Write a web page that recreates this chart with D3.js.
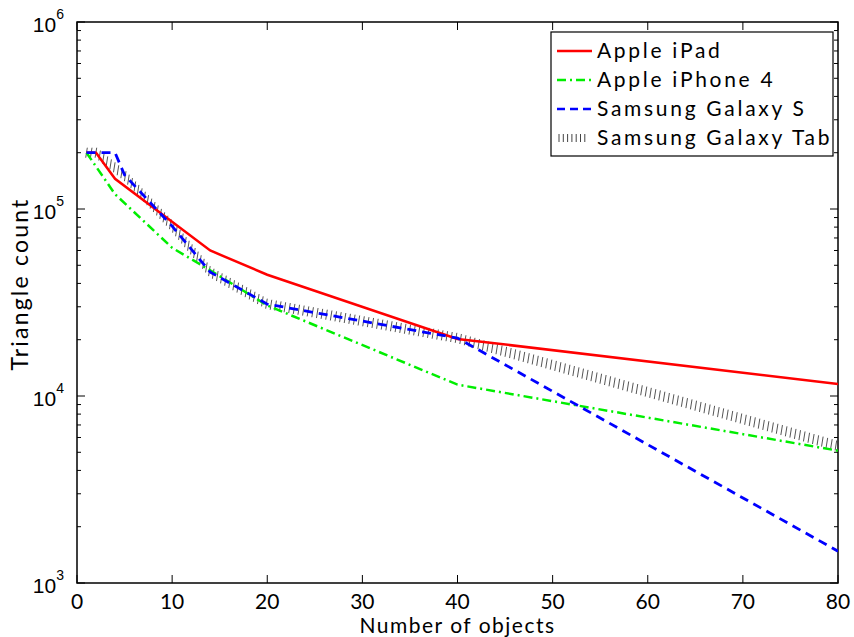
<!DOCTYPE html>
<meta charset="utf-8">
<style>
body { margin: 0; background: #fff; }
.legend text { font-family: Lato, sans-serif; font-size: 21px; letter-spacing: 2.7px; }
</style>
<div id="chart"></div>
<script src="https://d3js.org/d3.v7.min.js"></script>
<script>

// data (x = number of objects, y = triangle count)
var ipad = [[1, 200000], [2, 200000], [4, 145000], [14, 60000], [20, 44500], [40, 20200], [80, 11600]];
var iphone4 = [[1, 200000], [4, 120000], [10, 62000], [14, 47000], [20, 30500], [40, 11500], [80, 5100]];
var galaxyS = [[1, 200000], [4, 200000], [5, 152000], [10, 81000], [14, 46000], [20, 31000], [40, 20400], [80, 1480]];
var galaxyTab = [[1, 200000], [2, 200000], [5, 151000], [10, 81000], [14, 46000], [20, 31000], [40, 20400], [80, 5400]];

var names = ["Apple iPad", "Apple iPhone 4", "Samsung Galaxy S", "Samsung Galaxy Tab"];
var xTicks = [0, 10, 20, 30, 40, 50, 60, 70, 80];
var yDecades = [3, 4, 5, 6];

var svg = d3.select("#chart").append("svg")
    .attr("width", 854)
    .attr("height", 637),
  margin = {top: 22, right: 16, bottom: 54, left: 77},
  width = 854 - margin.left - margin.right,
  height = 637 - margin.top - margin.bottom,
  g = svg.append("g").attr("transform", "translate(" + margin.left + "," + margin.top + ")");

var x = d3.scaleLinear().domain([0, 80]).range([0, width]);
var y = d3.scaleLog().domain([1000, 1000000]).range([height, 0]);

g.append("clipPath").attr("id", "clip")
  .append("rect").attr("width", width).attr("height", height);

// frame
g.append("rect")
    .attr("width", width)
    .attr("height", height)
    .attr("fill", "none")
    .attr("stroke", "#000")
    .attr("stroke-width", 1.5);

// x ticks bottom + top, inward
xTicks.forEach(function(t) {
  g.append("line").attr("x1", x(t)).attr("x2", x(t)).attr("y1", height).attr("y2", height - 8).attr("stroke", "#000");
  g.append("line").attr("x1", x(t)).attr("x2", x(t)).attr("y1", 0).attr("y2", 8).attr("stroke", "#000");
  g.append("text")
      .attr("x", x(t))
      .attr("y", height + 26)
      .attr("text-anchor", "middle")
      .style("font", "21px Lato, sans-serif")
      .text(t);
});

// y ticks: major at decades, minor 2..9
var minor = [];
for (var e = 3; e < 6; e++) for (var m = 2; m <= 9; m++) minor.push(m * Math.pow(10, e));
minor.forEach(function(v) {
  g.append("line").attr("x1", 0).attr("x2", 4).attr("y1", y(v)).attr("y2", y(v)).attr("stroke", "#000");
  g.append("line").attr("x1", width).attr("x2", width - 4).attr("y1", y(v)).attr("y2", y(v)).attr("stroke", "#000");
});
yDecades.forEach(function(d) {
  var v = Math.pow(10, d);
  g.append("line").attr("x1", 0).attr("x2", 8).attr("y1", y(v)).attr("y2", y(v)).attr("stroke", "#000");
  g.append("line").attr("x1", width).attr("x2", width - 8).attr("y1", y(v)).attr("y2", y(v)).attr("stroke", "#000");
  var t = g.append("text")
      .attr("x", -13)
      .attr("y", y(v) + 10)
      .attr("text-anchor", "end")
      .style("font", "21px 'Liberation Sans', Arial, sans-serif");
  t.append("tspan").text("10");
  t.append("tspan").attr("dy", -13).style("font-size", "14px").text(d);
});

// axis titles
svg.append("text")
    .attr("x", margin.left + x(40))
    .attr("y", 633)
    .attr("text-anchor", "middle")
    .style("font", "21px Lato, sans-serif")
    .style("letter-spacing", "1.5px")
    .text("Number of objects");

svg.append("text")
    .attr("transform", "translate(28,284) rotate(-90)")
    .attr("text-anchor", "middle")
    .style("font", "23px Lato, sans-serif")
    .style("letter-spacing", "2.2px")
    .text("Triangle count");

var line = d3.line()
    .x(function(d) { return x(d[0]); })
    .y(function(d) { return y(d[1]); });

var plot = g.append("g").attr("clip-path", "url(#clip)");

// Galaxy Tab: hatched line, short vertical strokes along the path
var tabPath = plot.append("path")
    .datum(galaxyTab)
    .attr("d", line)
    .attr("fill", "none")
    .attr("stroke", "none");
var node = tabPath.node(), len = node.getTotalLength();
for (var s = 0; s <= len; s += 4.7) {
  var p = node.getPointAtLength(s);
  plot.append("line")
      .attr("x1", p.x - 0.8).attr("x2", p.x + 0.8)
      .attr("y1", p.y + 5).attr("y2", p.y - 5)
      .attr("stroke", "#555")
      .attr("stroke-width", 1);
}

plot.append("path")
    .datum(ipad)
    .attr("d", line)
    .attr("fill", "none")
    .attr("stroke", "#ff0000")
    .attr("stroke-width", 2.5);

plot.append("path")
    .datum(iphone4)
    .attr("d", line)
    .attr("fill", "none")
    .attr("stroke", "#00ee00")
    .attr("stroke-width", 2.5)
    .attr("stroke-dasharray", "9,4,2,4");

plot.append("path")
    .datum(galaxyS)
    .attr("d", line)
    .attr("fill", "none")
    .attr("stroke", "#0000ff")
    .attr("stroke-width", 2.8)
    .attr("stroke-dasharray", "9,6");

// legend
var legend = svg.append("g").attr("class", "legend").attr("transform", "translate(551,32)");
legend.append("rect")
    .attr("width", 282)
    .attr("height", 124)
    .attr("fill", "#fff")
    .attr("stroke", "#000")
    .attr("stroke-width", 1.2);

var styles = [
  {color: "#ff0000", dash: null},
  {color: "#00ee00", dash: "9,4,2,4"},
  {color: "#0000ff", dash: "8,5"},
  {color: "#444", dash: "hatch"}
];
names.forEach(function(n, i) {
  var row = legend.append("g").attr("transform", "translate(0," + (19 + i * 29) + ")");
  if (styles[i].dash === "hatch") {
    for (var k = 0; k < 7; k++) {
      row.append("line").attr("x1", 8 + k * 4.3).attr("x2", 8 + k * 4.3)
          .attr("y1", -4).attr("y2", 4).attr("stroke", "#444");
    }
  } else {
    row.append("line")
        .attr("x1", 6).attr("x2", 41)
        .attr("stroke", styles[i].color)
        .attr("stroke-width", 2.5)
        .attr("stroke-dasharray", styles[i].dash);
  }
  row.append("text")
      .attr("x", 46)
      .attr("dy", "0.35em")
      .text(n);
});

</script>
